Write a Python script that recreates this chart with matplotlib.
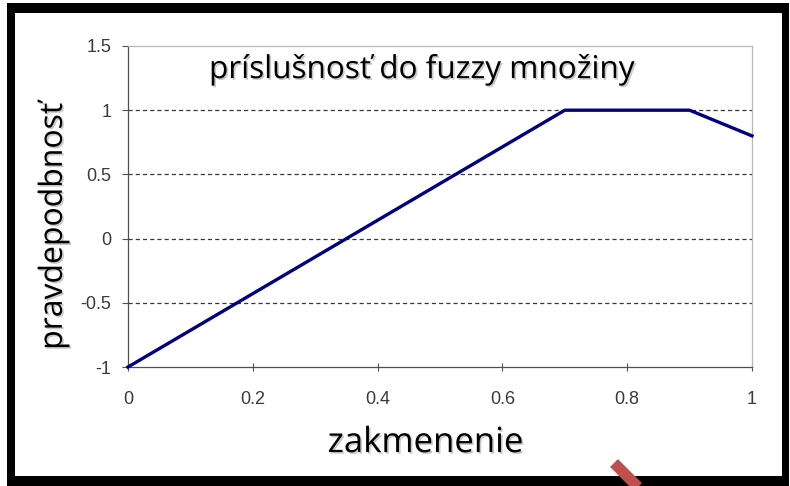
import matplotlib
matplotlib.use("Agg")
import matplotlib.pyplot as plt
import matplotlib.patheffects as pe
from matplotlib.patches import Rectangle
from matplotlib.lines import Line2D

# membership function breakpoints
x_vals = [0.0, 0.7, 0.9, 1.0]
y_vals = [-1.0, 1.0, 1.0, 0.8]
x_ticks = [0, 0.2, 0.4, 0.6, 0.8, 1]
x_tick_labels = ["0", "0.2", "0.4", "0.6", "0.8", "1"]
y_ticks = [-1, -0.5, 0, 0.5, 1, 1.5]
y_tick_labels = ["-1", "-0.5", "0", "0.5", "1", "1.5"]
grid_levels = [-0.5, 0, 0.5, 1]

title_text = "príslušnosť do fuzzy množiny"
x_label = "zakmenenie"
y_label = "pravdepodbnosť"

plt.rcParams["lines.scale_dashes"] = False
W, H = 790, 486
fig = plt.figure(figsize=(W / 100, H / 100), dpi=100)
ax = fig.add_axes([128 / W, 1 - 367 / H, 624 / W, 321 / H])

for g in grid_levels:
    ax.axhline(g, color="#383838", lw=0.9, linestyle=(0, (3, 2.2)), zorder=1)

ax.plot(x_vals, y_vals, color="#000080", lw=2.4, zorder=3, clip_on=False)

ax.set_xlim(0, 1)
ax.set_ylim(-1, 1.5)
ax.set_xticks(x_ticks, x_tick_labels)
ax.set_yticks(y_ticks, y_tick_labels)
ax.tick_params(axis="y", direction="out", length=4.3, width=0.8, color="#505050",
               pad=7.5, labelsize=13, labelcolor="#3a3a3a")
ax.tick_params(axis="x", direction="inout", length=6, width=0.8, color="#505050",
               pad=14, labelsize=13, labelcolor="#3a3a3a")
for lbl in ax.get_xticklabels() + ax.get_yticklabels():
    lbl.set_family("Liberation Sans")

for side in ["left", "bottom"]:
    ax.spines[side].set_color("#505050")
    ax.spines[side].set_linewidth(0.9)
for side in ["top", "right"]:
    ax.spines[side].set_color("#b8b8b8")
    ax.spines[side].set_linewidth(0.9)

shadow = [pe.SimplePatchShadow(offset=(1.2, -1.2), shadow_rgbFace="#888888", alpha=0.45),
          pe.Normal()]
font = "Open Sans"

ax.text(0.471, 0.900, title_text, transform=ax.transAxes, ha="center", va="baseline",
        fontsize=22.7, family=font, color="black", path_effects=shadow)
ax.set_xlabel(x_label, fontsize=25, family=font, va="baseline", path_effects=shadow)
ax.xaxis.set_label_coords(0.477, -0.265)
ax.set_ylabel(y_label, fontsize=23, family=font, va="baseline", path_effects=shadow)
ax.yaxis.set_label_coords(-0.106, 0.439)

# black frame around the slide picture
def px_rect(x0, y0, x1, y1, color):
    fig.add_artist(Rectangle((x0 / W, 1 - y1 / H), (x1 - x0) / W, (y1 - y0) / H,
                             transform=fig.transFigure, facecolor=color,
                             edgecolor="none", zorder=5))

px_rect(7, 3, 15, 486, "black")
px_rect(7, 3, 789, 13, "black")
px_rect(782, 3, 789, 486, "black")
px_rect(7, 476, 789, 486, "black")

# red pen stroke crossing the bottom edge
fig.add_artist(Line2D([614 / W, 642 / W], [1 - 463 / H, 1 - 491 / H],
                      transform=fig.transFigure, color="#c0504d", lw=8,
                      solid_capstyle="butt", zorder=6))

fig.savefig("out.png", dpi=100)
